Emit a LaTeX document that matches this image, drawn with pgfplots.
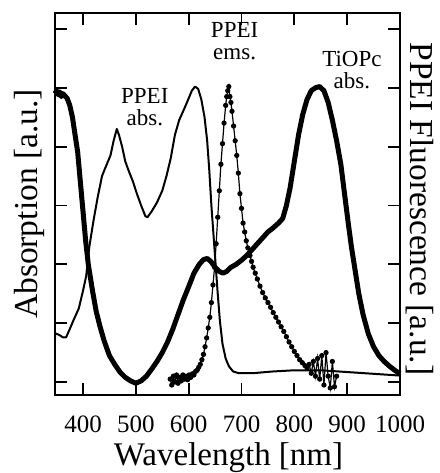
\documentclass[border=0pt]{standalone}
\usepackage{pgfplots}
\pgfplotsset{compat=1.18}
\usepackage{fontspec}
\setmainfont{Liberation Serif}
\begin{document}
\begin{tikzpicture}[x=1pt,y=1pt]
\useasboundingbox (0,0) rectangle (439,473);
\begin{axis}[
  at={(55pt,78pt)}, anchor=south west,
  width=345pt, height=382pt, scale only axis,
  xmin=347, xmax=1000, ymin=-0.22, ymax=6.27,
  xtick={400,500,600,700,800,900,1000},
  ytick={0,1,2,3,4,5,6},
  yticklabels={},
  tick align=inside,
  major tick length=12pt,
  every tick/.style={line width=1.8pt, black},
  axis line style={line width=2.8pt},
  /pgf/number format/assume math mode=true,
  /pgf/number format/set thousands separator={},
  xticklabel style={font=\fontsize{25}{28}\selectfont, anchor=base, yshift=-37pt},
  xlabel={Wavelength [nm]},
  xlabel style={font=\fontsize{33}{38}\selectfont, anchor=base, at={(axis description cs:0.503,-0.185)}},
  ylabel={Absorption [a.u.]},
  ylabel style={font=\fontsize{33.5}{38}\selectfont, anchor=center, rotate=0, at={(axis description cs:-0.075,0.5)}},
  clip=false,
]
% PPEI abs. (thin)
\addplot[black, line width=2pt, line join=round] coordinates {
(347,0.83)(355,0.80)(362,0.76)(368,0.76)(374,0.88)(382,1.05)(392,1.25)(400,1.55)
(406,1.8)(412,2.3)(420,2.75)(428,3.15)(436,3.5)(445,3.7)(452,3.85)(458,4.1)
(464,4.3)(468,4.2)(474,4.0)(480,3.75)(486,3.6)(494,3.42)(502,3.2)(510,3.0)
(518,2.82)(522,2.8)(530,2.9)(540,3.05)(550,3.25)(558,3.5)(566,3.8)(574,4.2)
(582,4.45)(592,4.65)(600,4.82)(606,4.95)(612,5.02)(618,4.98)(624,4.8)(630,4.5)
(635,4.1)(639,3.6)(643,3.0)(647,2.5)(651,2.0)(655,1.5)(659,1.05)(664,0.65)
(670,0.4)(676,0.27)(684,0.18)(695,0.15)(720,0.15)(760,0.18)(800,0.2)(850,0.2)
(900,0.17)(950,0.14)(1000,0.11)
};
% TiOPc abs. (thick)
\addplot[black, line width=5pt, line join=round] coordinates {
(347,4.9)(350,4.95)(353,4.88)(356,4.93)(359,4.85)(362,4.9)(366,4.86)(370,4.82)
(375,4.7)(380,4.5)(385,4.2)(390,3.9)(395,3.4)(400,2.9)(405,2.4)(410,2.0)
(418,1.55)(425,1.2)(432,0.95)(440,0.7)(450,0.45)(460,0.3)(470,0.17)(480,0.08)
(490,0.02)(500,-0.02)(510,0.02)(520,0.1)(530,0.22)(540,0.35)(550,0.5)(560,0.68)
(570,0.9)(580,1.15)(590,1.4)(600,1.62)(610,1.85)(620,2.0)(628,2.08)(635,2.1)
(642,2.05)(650,1.95)(658,1.88)(665,1.85)(672,1.88)(680,1.95)(690,2.0)(700,2.07)
(710,2.15)(720,2.25)(730,2.35)(740,2.45)(750,2.55)(760,2.62)(770,2.7)(778,2.78)
(785,3.0)(792,3.3)(800,3.75)(808,4.2)(816,4.55)(824,4.8)(832,4.95)(840,5.0)
(848,5.02)(856,4.95)(864,4.75)(872,4.45)(880,4.1)(888,3.7)(895,3.2)(902,2.7)
(908,2.3)(915,1.9)(922,1.5)(930,1.15)(940,0.82)(950,0.6)(960,0.45)(970,0.35)
(980,0.27)(990,0.2)(1000,0.14)
};
% PPEI ems. (dotted)
\addplot[black, line width=1.2pt, mark=*, mark size=2pt] coordinates {
(565,0.05)(568,-0.05)(571,0.1)(574,0.0)(577,0.12)(580,-0.02)(583,0.08)(586,0.02)
(589,0.12)(592,0.05)(595,0.1)(598,0.04)(601,0.12)(604,0.08)(607,0.14)(610,0.12)
(613,0.18)(616,0.2)(619,0.25)(622,0.3)(625,0.38)(628,0.47)(631,0.6)(634,0.75)
(637,0.92)(640,1.1)(643,1.35)(646,1.65)(649,1.95)(652,2.35)(655,2.8)(658,3.25)
(661,3.7)(664,4.05)(667,4.4)(670,4.7)(672,4.85)(674,4.95)(676,5.02)(678,4.85)
(680,4.75)(682,4.6)(685,4.35)(688,4.1)(691,3.85)(694,3.55)(697,3.2)(700,2.95)
(703,2.7)(706,2.55)(709,2.4)(712,2.28)(716,2.15)(719,2.05)(722,1.95)(726,1.85)
(730,1.75)(735,1.63)(740,1.52)(745,1.43)(750,1.35)(755,1.27)(760,1.18)(765,1.1)
(770,1.02)(775,0.94)(780,0.86)(785,0.77)(790,0.68)(795,0.6)(800,0.52)(805,0.45)
(810,0.38)(815,0.33)(820,0.28)(824,0.24)(828,0.3)(832,0.15)(836,0.35)(840,0.1)
(844,0.4)(848,0.05)(852,0.45)(856,-0.05)(860,0.5)(864,0.1)(868,-0.1)(872,0.35)
(876,-0.08)(880,0.1)
};
\node[font=\fontsize{23}{22}\selectfont, align=center] at (axis cs:517,4.67) {PPEI\\abs.};
\node[font=\fontsize{23}{22}\selectfont, align=center] at (axis cs:687,5.8) {PPEI\\ems.};
\node[font=\fontsize{23}{22}\selectfont, align=center] at (axis cs:909,5.3) {TiOPc\\abs.};
\node[font=\fontsize{33.5}{38}\selectfont, rotate=-90, anchor=center, inner sep=0pt] at (axis description cs:1.057,0.487) {PPEI Fluorescence [a.u.]};
\end{axis}
\end{tikzpicture}
\end{document}
